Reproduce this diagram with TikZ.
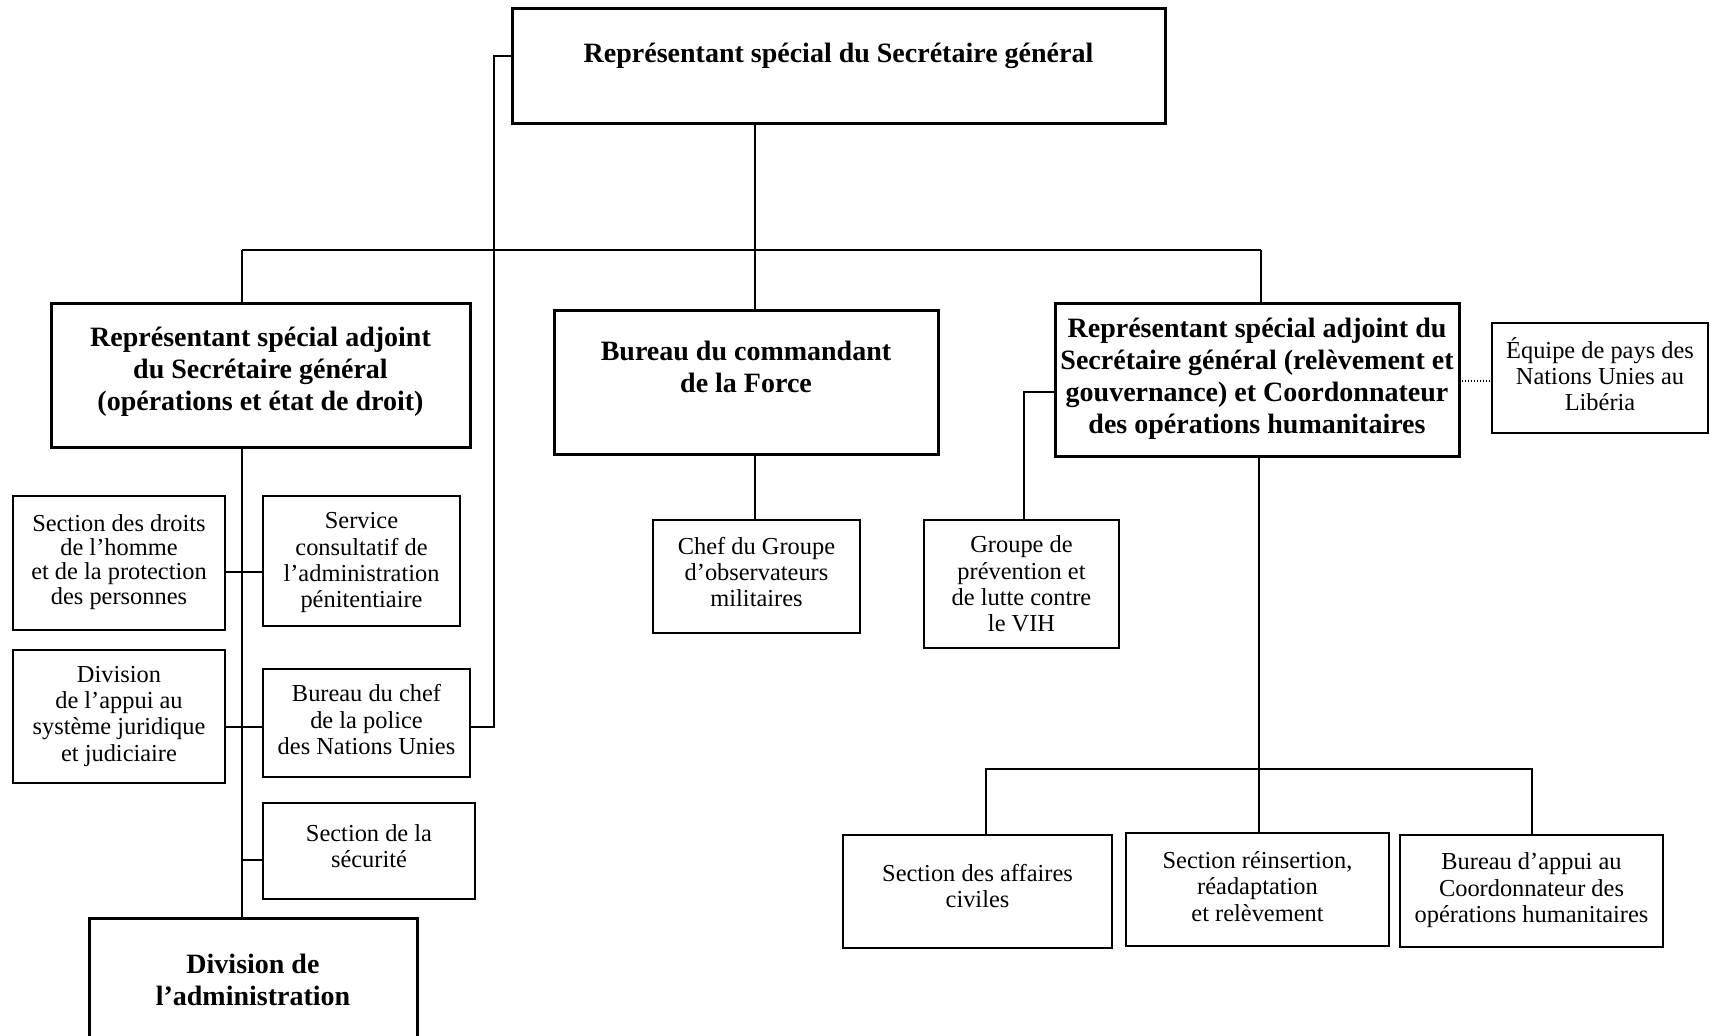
\documentclass[tikz,border=0pt]{standalone}
\usepackage{fontspec}
\setmainfont{Liberation Serif}
% box: [style]{name}{x1}{y1}{x2}{y2}{extra space under text}{lines}
\newcommand\orgbox[8]{%
  \node[#1, anchor=north west,
        minimum width={(#5-#3)*0.5pt}, minimum height={(#6-#4)*0.5pt}]
        (#2) at (#3,#4) {\begin{tabular}{@{}c@{}}#8\\[#7]\end{tabular}};}
\begin{document}
\begin{tikzpicture}[x=0.5pt,y=-0.5pt,
  bigbox/.style={draw, line width=1.5pt, inner sep=0pt, outer sep=0pt,
                 font=\bfseries\fontsize{14}{16}\selectfont},
  smallbox/.style={draw, line width=0.75pt, inner sep=0pt, outer sep=0pt,
                   font=\fontsize{12.2}{13.2}\selectfont},
  tight/.style={font=\fontsize{12.2}{12}\selectfont},
  link/.style={line width=0.8pt},
  assoc/.style={line width=0.6pt, dash pattern=on 0.6pt off 0.9pt}]
\useasboundingbox (0,0) rectangle (1711,1036);

% top level
\orgbox{bigbox}{top}{512}{9}{1165}{124}{10.5pt}{Représentant spécial du Secrétaire général}

% second level
\orgbox{bigbox}{dsrsg1}{51}{304}{470}{448}{3.5pt}{Représentant spécial adjoint\\du Secrétaire général\\(opérations et état de droit)}
\orgbox{bigbox}{force}{554}{311}{938}{455}{12.5pt}{Bureau du commandant\\de la Force}
\orgbox{bigbox}{dsrsg2}{1055}{304}{1459}{457}{1pt}{Représentant spécial adjoint du\\Secrétaire général (relèvement et\\gouvernance) et Coordonnateur\\des opérations humanitaires}
\orgbox{smallbox}{equipe}{1492}{323}{1708}{433}{0pt}{Équipe de pays des\\Nations Unies au\\Libéria}

% operations and rule of law
\orgbox{smallbox,tight}{droits}{13}{496}{225}{630}{0pt}{Section des droits\\de l’homme\\et de la protection\\des personnes}
\orgbox{smallbox}{service}{263}{496}{460}{626}{-2pt}{Service\\consultatif de\\l’administration\\pénitentiaire}
\orgbox{smallbox}{appui}{13}{650}{225}{783}{0pt}{Division\\de l’appui au\\système juridique\\et judiciaire}
\orgbox{smallbox}{police}{263}{669}{470}{777}{0pt}{Bureau du chef\\de la police\\des Nations Unies}
\orgbox{smallbox}{securite}{263}{803}{475}{899}{1.7pt}{Section de la\\sécurité}
\orgbox{bigbox}{admin}{89}{918}{417}{1049}{0pt}{Division de\\l’administration}

% force
\orgbox{smallbox}{chef}{653}{520}{860}{633}{1.3pt}{Chef du Groupe\\d’observateurs\\militaires}

% recovery and governance
\orgbox{smallbox}{vih}{924}{520}{1119}{648}{-3pt}{Groupe de\\prévention et\\de lutte contre\\le VIH}
\orgbox{smallbox}{civ}{843}{835}{1112}{948}{2pt}{Section des affaires\\civiles}
\orgbox{smallbox}{reins}{1126}{833}{1389}{946}{0pt}{Section réinsertion,\\réadaptation\\et relèvement}
\orgbox{smallbox}{ocha}{1400}{835}{1663}{947}{0pt}{Bureau d’appui au\\Coordonnateur des\\opérations humanitaires}

% junction points
\coordinate (hub) at (755,250);
\coordinate (barL) at (242,250);
\coordinate (barR) at (1261,250);
\coordinate (loopTop) at (494,56);
\coordinate (loopBot) at (494,727);
\coordinate (row1) at (0,572);
\coordinate (row2) at (0,727);
\coordinate (row3) at (0,860);
\coordinate (vihTurn) at (1024,392);
\coordinate (lowC) at (1259,769);
\coordinate (lowL) at (986,769);
\coordinate (lowR) at (1532,769);
\coordinate (dots) at (0,381);

% top level to second level
\draw[link] (top.south -| hub) -- (hub);
\draw[link] (barL) -- (barR);
\draw[link] (barL) -- (barL |- dsrsg1.north);
\draw[link] (hub) -- (hub |- force.north);
\draw[link] (barR) -- (barR |- dsrsg2.north);

% police reports directly to the top
\draw[link] (loopTop -| top.west) -- (loopTop) -- (loopBot) -- (police.east |- loopBot);

% left branch
\draw[link] (barL |- dsrsg1.south) -- (barL |- admin.north);
\draw[link] (droits.east |- row1) -- (service.west |- row1);
\draw[link] (appui.east |- row2) -- (police.west |- row2);
\draw[link] (barL |- row3) -- (securite.west |- row3);

% centre branch
\draw[link] (hub |- force.south) -- (hub |- chef.north);

% right branch
\draw[link] (vihTurn -| dsrsg2.west) -- (vihTurn) -- (vihTurn |- vih.north);
\draw[link] (lowC |- dsrsg2.south) -- (lowC |- reins.north);
\draw[link] (lowL |- civ.north) -- (lowL) -- (lowR) -- (lowR |- ocha.north);
\draw[assoc] (dsrsg2.east |- dots) -- (equipe.west |- dots);
\end{tikzpicture}
\end{document}
